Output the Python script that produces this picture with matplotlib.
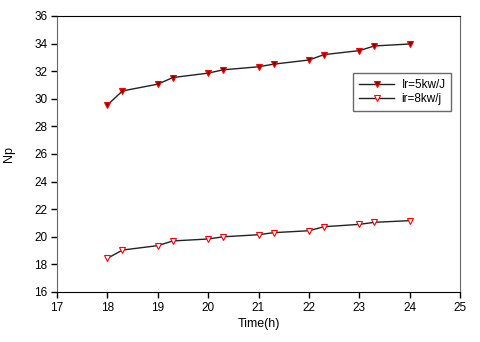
import matplotlib
matplotlib.use("Agg")
import matplotlib.pyplot as plt

plt.rcParams['font.family'] = ['Liberation Sans', 'DejaVu Sans']

time_h = [18, 18.3, 19, 19.3, 20, 20.3, 21, 21.3, 22, 22.3, 23, 23.3, 24]
np_5kw = [29.55, 30.57, 31.06, 31.54, 31.86, 32.1, 32.32, 32.51, 32.81, 33.2, 33.49, 33.83, 33.97]
np_8kw = [18.44, 19.04, 19.36, 19.7, 19.84, 20.0, 20.15, 20.3, 20.44, 20.73, 20.9, 21.05, 21.17]

xticks = [17, 18, 19, 20, 21, 22, 23, 24, 25]
yticks = [16, 18, 20, 22, 24, 26, 28, 30, 32, 34, 36]

fig = plt.figure(figsize=(4.8, 3.42), dpi=100)
ax = fig.add_axes([57 / 480, 1 - 292 / 342, 403 / 480, 276 / 342])

ax.plot(time_h, np_5kw, color='#222222', lw=1, marker='v', ms=4.5,
        mfc='#7a0000', mec='red', mew=0.8, label='Ir=5kw/J')
ax.plot(time_h, np_8kw, color='#222222', lw=1, marker='v', ms=4.5,
        mfc='white', mec='red', mew=0.8, label='ir=8kw/j')

ax.set_xlim(17, 25)
ax.set_ylim(16, 36)
ax.set_xticks(xticks)
ax.set_yticks(yticks)
ax.tick_params(direction='out', length=4, width=1, labelsize=8.5, pad=3)
for side in ['left', 'right']:
    ax.spines[side].set_color('#666666')
for side in ['top', 'bottom']:
    ax.spines[side].set_color('black')

ax.set_xlabel('Time(h)', fontsize=9, labelpad=3)
ax.set_ylabel('Np', fontsize=9, labelpad=14)

leg = ax.legend(loc='upper left', bbox_to_anchor=((353 - 57) / 403, 1 - (73 - 16) / 276),
                fontsize=8.5, frameon=True, fancybox=False, edgecolor='#444444',
                handlelength=3, borderpad=0.5, labelspacing=0.2, handletextpad=0.6,
                borderaxespad=0)
leg.get_frame().set_linewidth(1)

fig.savefig('out.png', dpi=100)
